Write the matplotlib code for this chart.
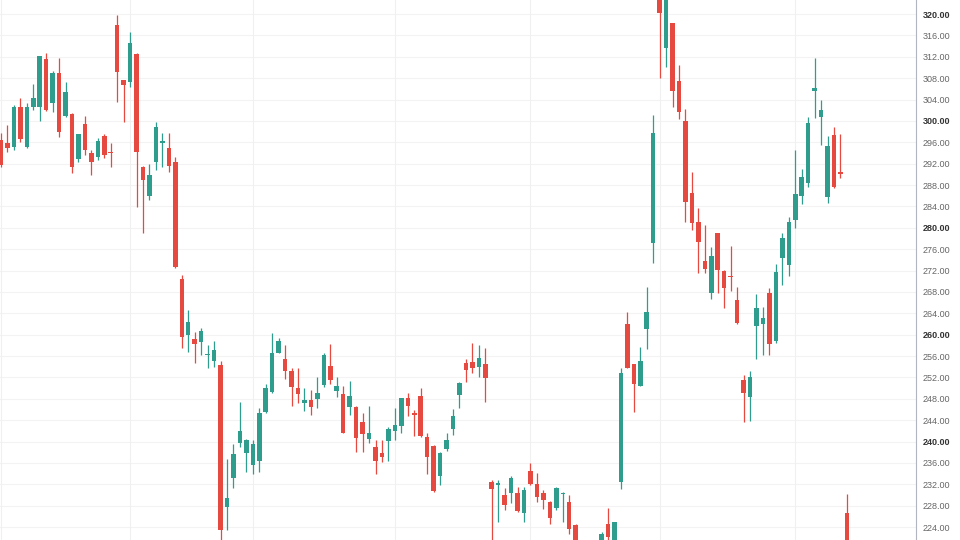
import matplotlib
matplotlib.use('Agg')
import matplotlib.pyplot as plt
import numpy as np

# OHLC values (one entry per trading day)
opens = [296.5, 295.9, 295.1, 302.6, 295.1, 302.6, 302.6, 311.6, 303.3, 309.0,
         300.9, 301.3, 292.9, 299.4, 294.0, 293.2, 297.2, 294.1, 318.0, 307.6,
         307.3, 312.5, 291.4, 286.0, 292.3, 295.8, 294.9, 292.3, 270.4, 260.0,
         259.2, 258.6, 256.1, 255.1, 254.3, 227.7, 233.2, 239.7, 237.9, 235.6,
         236.4, 245.6, 249.3, 256.6, 255.4, 253.2, 250.0, 247.2, 247.8, 248.0,
         250.6, 254.1, 249.5, 248.9, 246.5, 246.5, 243.7, 240.5, 239.0, 237.9,
         240.1, 242.0, 242.9, 248.1, 245.4, 248.5, 240.8, 239.2, 233.5, 238.6,
         242.3, 248.7, 254.7, 254.9, 253.9, 254.5, 232.4, 231.9, 230.0, 230.4,
         230.4, 226.6, 234.5, 232.0, 230.4, 228.7, 227.6, 230.1, 228.7, 224.4,
         219.5, 216.5, 218.0, 219.8, 224.6, 220.5, 232.4, 262.0, 254.5, 250.4,
         261.0, 277.1, 324.0, 313.6, 318.3, 307.5, 300.0, 286.5, 281.1, 273.8,
         267.8, 279.0, 271.9, 271.0, 266.5, 251.5, 248.3, 261.6, 262.0, 267.8,
         258.8, 274.3, 273.0, 281.5, 286.0, 288.4, 305.6, 300.7, 285.8, 297.4,
         290.3, 226.6]
highs = [297.7, 299.2, 303.0, 304.3, 303.3, 306.9, 312.2, 312.7, 309.3, 311.8,
         307.3, 301.4, 297.6, 300.9, 294.5, 296.8, 297.5, 295.9, 319.8, 307.7,
         316.6, 312.7, 291.5, 291.9, 299.8, 297.7, 297.7, 293.2, 271.2, 264.6,
         260.5, 261.2, 258.1, 258.8, 255.1, 236.7, 239.5, 247.4, 240.4, 240.3,
         246.3, 250.8, 260.3, 259.4, 258.1, 253.8, 253.8, 250.0, 249.6, 252.0,
         256.6, 258.2, 252.0, 250.4, 251.3, 246.6, 245.3, 246.6, 240.3, 240.3,
         242.7, 246.3, 248.2, 249.1, 245.9, 250.0, 241.6, 239.3, 238.0, 241.6,
         246.1, 251.1, 255.4, 258.4, 258.1, 257.5, 232.8, 232.8, 231.3, 233.5,
         231.5, 231.5, 236.0, 234.1, 230.9, 228.9, 231.5, 230.6, 230.0, 224.5,
         221.0, 220.0, 221.0, 223.1, 227.6, 225.0, 253.8, 264.2, 254.5, 257.7,
         268.9, 301.1, 325.0, 326.0, 318.4, 310.5, 302.2, 290.4, 283.7, 280.5,
         276.4, 279.1, 272.1, 276.6, 268.9, 252.5, 253.2, 267.6, 265.2, 268.7,
         273.2, 279.0, 282.0, 294.6, 291.0, 300.7, 311.8, 303.9, 297.2, 298.9,
         297.5, 230.2]
lows = [291.4, 294.2, 294.5, 296.0, 295.0, 302.0, 300.0, 301.8, 301.7, 297.0,
        300.8, 290.2, 292.3, 293.6, 289.9, 292.7, 293.0, 291.4, 303.5, 299.8,
        306.3, 283.9, 279.0, 285.2, 290.8, 291.4, 290.4, 272.5, 257.5, 256.8,
        254.7, 256.2, 253.8, 253.9, 221.5, 223.4, 231.3, 239.0, 234.3, 233.9,
        234.3, 245.3, 249.1, 256.5, 251.7, 246.6, 247.2, 245.7, 245.0, 246.3,
        250.2, 250.8, 248.3, 241.5, 245.0, 238.0, 238.0, 239.7, 233.9, 236.2,
        236.4, 240.3, 241.6, 244.8, 241.0, 240.8, 233.9, 230.6, 231.9, 238.2,
        241.2, 246.3, 251.1, 252.8, 252.0, 247.4, 221.0, 224.9, 227.2, 228.5,
        226.8, 224.9, 231.9, 228.7, 227.4, 224.6, 227.2, 224.9, 222.7, 218.0,
        215.0, 214.5, 216.0, 219.0, 221.3, 220.0, 231.1, 253.7, 245.5, 250.4,
        257.3, 273.4, 308.0, 310.1, 302.6, 300.4, 281.1, 279.6, 271.5, 271.5,
        266.7, 267.8, 265.0, 268.2, 262.0, 243.7, 243.8, 255.4, 256.2, 256.2,
        258.4, 269.3, 271.0, 280.0, 284.5, 287.6, 300.5, 295.5, 284.6, 287.5,
        289.3, 215.0]
closes = [291.8, 294.9, 302.6, 296.6, 302.6, 304.3, 312.1, 302.0, 309.0, 298.0,
          305.4, 291.4, 297.5, 294.5, 292.3, 296.2, 293.6, 293.9, 309.1, 306.7,
          314.6, 294.2, 288.9, 289.9, 298.9, 296.2, 291.6, 272.7, 259.6, 262.4,
          258.2, 260.7, 256.3, 257.1, 223.4, 229.4, 237.7, 242.0, 240.3, 239.5,
          245.3, 250.1, 256.6, 258.8, 253.2, 250.2, 248.9, 247.8, 246.5, 249.1,
          256.2, 251.5, 250.4, 241.6, 248.5, 240.7, 241.4, 241.6, 236.4, 237.1,
          242.3, 243.1, 248.1, 246.6, 244.9, 241.0, 237.1, 230.7, 237.9, 240.3,
          244.8, 251.0, 253.4, 253.8, 255.6, 251.9, 231.1, 232.1, 228.1, 233.2,
          227.0, 231.0, 232.0, 229.6, 229.1, 225.7, 231.3, 230.3, 223.6, 219.5,
          216.5, 218.0, 219.5, 222.7, 222.1, 224.9, 252.8, 253.8, 250.8, 255.1,
          264.2, 297.7, 320.2, 325.0, 305.6, 301.7, 284.8, 280.9, 277.3, 272.3,
          274.7, 272.1, 268.7, 270.7, 262.2, 249.1, 252.1, 265.0, 263.1, 258.2,
          271.7, 278.1, 281.1, 286.3, 289.5, 299.6, 306.2, 302.0, 295.3, 287.6,
          290.1, 218.0]

# day index where a new month starts (vertical grid lines)
month_starts = [0, 20, 39, 61, 82, 102, 123]
price_ticks = np.arange(224, 321, 4)

UP = '#2e9d8d'
DOWN = '#e6493f'

o = np.array(opens)
h = np.array(highs)
l = np.array(lows)
c = np.array(closes)
x = np.arange(len(o))
colors = np.where(c >= o, UP, DOWN)

fig = plt.figure(figsize=(9.6, 5.4), dpi=100)
ax = fig.add_axes([0, 0, 916 / 960, 1])

# grid
for p in price_ticks:
    ax.axhline(p, color='#f3f3f3', linewidth=0.8, zorder=0)
for m in month_starts:
    ax.axvline(m, color='#f0f0f0', linewidth=0.8, zorder=0)

# candles
ax.vlines(x, l, h, colors=colors, linewidth=0.9, zorder=2)
body_lo = np.minimum(o, c)
body_h = np.maximum(np.abs(c - o), 0.25)
ax.bar(x, body_h, bottom=body_lo, width=0.7, color=colors, linewidth=0, zorder=3)

ax.set_xlim(-0.15, 141.7)
ax.set_ylim(221.57, 322.62)

ax.yaxis.tick_right()
ax.set_yticks(price_ticks)
ax.set_yticklabels([f'{p:.2f}' for p in price_ticks])
ax.tick_params(axis='y', length=0, pad=5, labelsize=6.5, labelcolor='#666666')
for lab, p in zip(ax.get_yticklabels(), price_ticks):
    lab.set_fontfamily('Liberation Sans')
    if p % 20 == 0:
        lab.set_fontweight('bold')
        lab.set_color('#333333')
ax.set_xticks([])

for side in ['top', 'left', 'bottom']:
    ax.spines[side].set_visible(False)
ax.spines['right'].set_color('#b2b5be')
ax.spines['right'].set_linewidth(0.8)

plt.savefig('out.png', dpi=100)
plt.close()
